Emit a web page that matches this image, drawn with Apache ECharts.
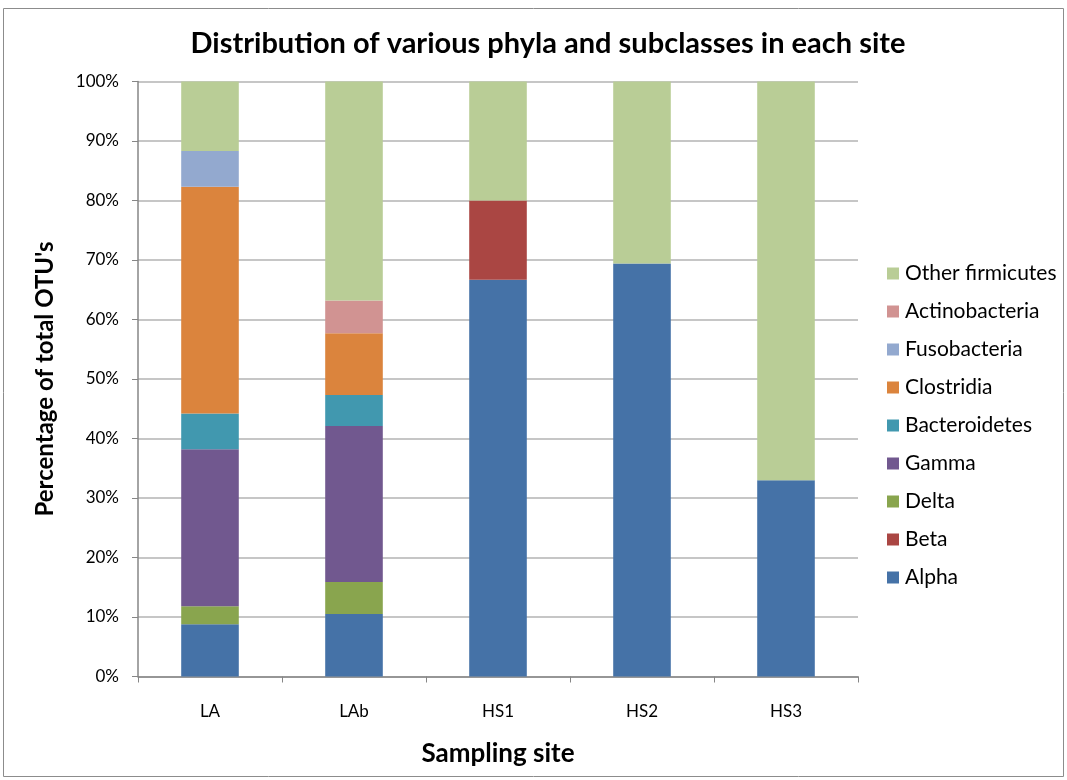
<!DOCTYPE html>
<html><head><meta charset="utf-8">
<script src="https://cdn.jsdelivr.net/npm/echarts@6/dist/echarts.min.js"></script>
<style>html,body{margin:0;padding:0;background:#fff}#c{width:1067px;height:780px}</style>
</head><body><div id="c"></div>
<script>
const sites = ['LA', 'LAb', 'HS1', 'HS2', 'HS3'];
const yTicks = [0, 10, 20, 30, 40, 50, 60, 70, 80, 90, 100];
const alpha = [8.8, 10.5, 66.7, 69.4, 33.0];
const beta = [0, 0, 13.3, 0, 0];
const delta = [3.0, 5.4, 0, 0, 0];
const gamma = [26.4, 26.2, 0, 0, 0];
const bacteroidetes = [6.0, 5.2, 0, 0, 0];
const clostridia = [38.1, 10.4, 0, 0, 0];
const fusobacteria = [6.0, 0, 0, 0, 0];
const actinobacteria = [0, 5.5, 0, 0, 0];
const otherFirmicutes = [11.7, 36.8, 20.0, 30.6, 67.0];

const seriesDefs = [
  ['Alpha', alpha, '#4572a7'],
  ['Beta', beta, '#aa4643'],
  ['Delta', delta, '#89a54e'],
  ['Gamma', gamma, '#71588f'],
  ['Bacteroidetes', bacteroidetes, '#4198af'],
  ['Clostridia', clostridia, '#db843d'],
  ['Fusobacteria', fusobacteria, '#93a9cf'],
  ['Actinobacteria', actinobacteria, '#d19392'],
  ['Other firmicutes', otherFirmicutes, '#b9cd96']
];

const font = 'Lato, "Open Sans", sans-serif';
const chart = echarts.init(document.getElementById('c'), null, {renderer: 'canvas'});
chart.setOption({
  animation: false,
  backgroundColor: '#fff',
  graphic: [{
    type: 'rect', shape: {x: 3.5, y: 8.5, width: 1060, height: 768},
    style: {fill: 'none', stroke: '#8c8c8c', lineWidth: 1}, silent: true
  }],
  title: {
    text: 'Distribution of various phyla and subclasses in each site',
    left: 543, top: 24, textAlign: 'center',
    textStyle: {fontFamily: font, fontWeight: 'bold', fontSize: 29, color: '#000'}
  },
  legend: {
    orient: 'vertical', left: 882, top: 258, itemGap: 17,
    itemWidth: 12, itemHeight: 12, icon: 'rect',
    data: seriesDefs.map(d => d[0]).reverse(),
    textStyle: {fontFamily: font, fontSize: 21, color: '#000', padding: [0, 0, 0, 1]}
  },
  grid: {left: 138, right: 209, top: 81.5, bottom: 103.5, containLabel: false},
  xAxis: {
    type: 'category', data: sites,
    name: 'Sampling site', nameLocation: 'middle', nameGap: 64,
    nameTextStyle: {fontFamily: font, fontWeight: 'bold', fontSize: 26, color: '#000'},
    axisLine: {lineStyle: {color: '#868686', width: 1.5}},
    axisTick: {show: true, alignWithLabel: false, length: 6, lineStyle: {color: '#868686'}},
    axisLabel: {fontFamily: font, fontSize: 17, color: '#000', margin: 27}
  },
  yAxis: {
    type: 'value', min: yTicks[0], max: yTicks[yTicks.length - 1], interval: 10,
    name: "Percentage of total OTU's", nameLocation: 'middle', nameGap: 81, nameRotate: 90,
    nameTextStyle: {fontFamily: font, fontWeight: 'bold', fontSize: 24, color: '#000'},
    axisLine: {show: true, lineStyle: {color: '#868686', width: 1.5}},
    axisTick: {show: true, length: 6, lineStyle: {color: '#868686'}},
    splitLine: {lineStyle: {color: '#b3b3b3', width: 1.5}},
    axisLabel: {fontFamily: font, fontSize: 17, color: '#000', margin: 19, formatter: v => v + '%'}
  },
  series: seriesDefs.map(d => ({
    name: d[0], type: 'bar', stack: 'total', data: d[1], barWidth: '40%',
    itemStyle: {color: d[2]}
  }))
});
</script></body></html>
